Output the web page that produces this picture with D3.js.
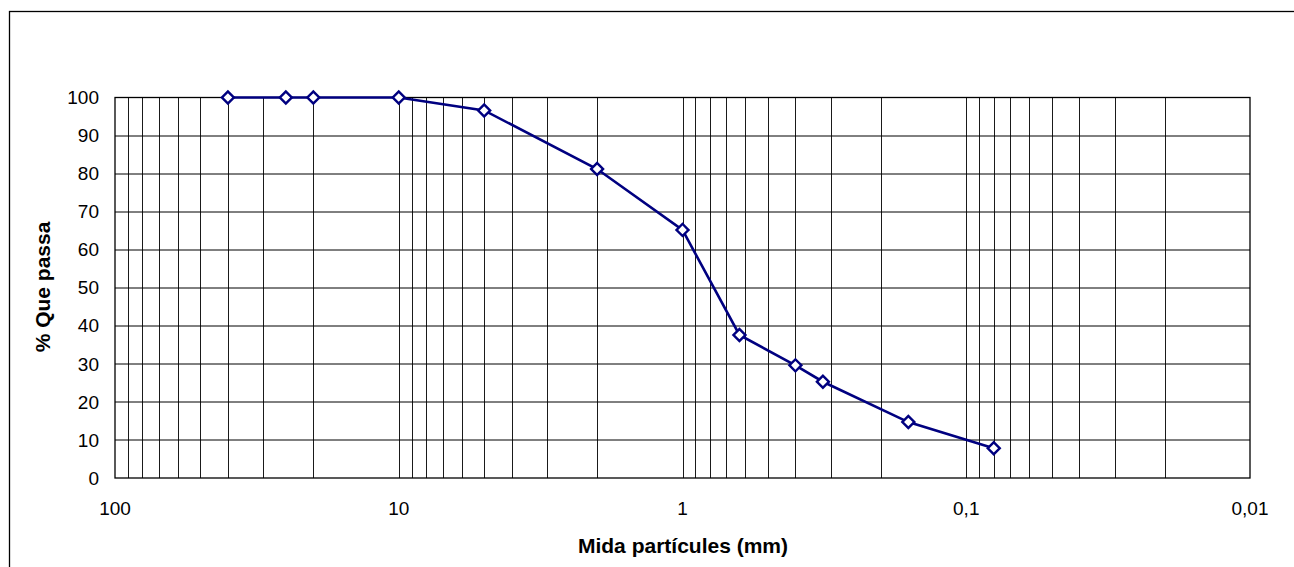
<!DOCTYPE html>
<html>
<head>
<meta charset="utf-8">
<script src="https://cdn.jsdelivr.net/npm/d3@7"></script>
<style>
  body { margin: 0; background: #fff; }
  svg text { font-family: Arial, "Liberation Sans", sans-serif; fill: #000; }
</style>
</head>
<body>
<div id="container"></div>
<script>
let margin = {top: 97.5, right: 44, bottom: 89, left: 115},
    width = 1294 - margin.left - margin.right,
    height = 567 - margin.top - margin.bottom;

// particle size (mm) and % passing
let sizes = [40, 25, 20, 10, 5, 2, 1, 0.63, 0.4, 0.32, 0.16, 0.08];
let passing = [100, 100, 100, 100, 96.6, 81.2, 65.2, 37.6, 29.6, 25.3, 14.7, 7.8];
let xTicks = [100, 10, 1, 0.1, 0.01];
let xTickLabels = ["100", "10", "1", "0,1", "0,01"];
let yTicks = [0, 10, 20, 30, 40, 50, 60, 70, 80, 90, 100];

let svg = d3.select('#container')
              .append("svg")
                  .attr("width", 1294)
                  .attr("height", 567);

// outer chart frame (runs off the page on right and bottom)
svg.append("rect")
    .attr("x", 9.5).attr("y", 11.5)
    .attr("width", 1300).attr("height", 600)
    .attr("fill", "none")
    .attr("stroke", "#000")
    .attr("stroke-width", 1.3);

let graph = svg.append("g")
    .attr("transform", "translate(" + margin.left + "," + margin.top + ")");

let xScale = d3.scaleLog()
                .domain([100, 0.01])
                .range([0, width]);

let yScale = d3.scaleLinear()
                .domain([0, 100])
                .range([height, 0]);

// vertical gridlines: every 1..9 of each decade
let minor = [];
[10, 1, 0.1, 0.01].forEach(function(dec){
  for(let k = 1; k < 10; k++){ minor.push(+(dec * k).toPrecision(3)); }
});
minor = minor.filter(d => d < 100 && d > 0.01);

graph.append("g").selectAll("line")
    .data(minor)
    .enter().append("line")
      .attr("x1", d => Math.round(xScale(d)) + 0.5)
      .attr("x2", d => Math.round(xScale(d)) + 0.5)
      .attr("y1", 0)
      .attr("y2", height)
      .attr("stroke", "#1a1a1a")
      .attr("stroke-width", 1);

// horizontal gridlines
graph.append("g").selectAll("line")
    .data(yTicks.slice(1, -1))
    .enter().append("line")
      .attr("x1", 0)
      .attr("x2", width)
      .attr("y1", d => Math.round(yScale(d)) + 0.5)
      .attr("y2", d => Math.round(yScale(d)) + 0.5)
      .attr("stroke", "#000")
      .attr("stroke-width", 1);

// plot border
graph.append("rect")
    .attr("x", 0).attr("y", 0)
    .attr("width", width).attr("height", height)
    .attr("fill", "none")
    .attr("stroke", "#000")
    .attr("stroke-width", 1.3);

// y tick labels
graph.append("g").selectAll("text")
    .data(yTicks)
    .enter().append("text")
      .attr("x", -16)
      .attr("y", d => yScale(d))
      .attr("dy", "0.35em")
      .attr("text-anchor", "end")
      .style("font-size", "19px")
      .text(d => d);

// x tick labels
graph.append("g").selectAll("text")
    .data(xTicks)
    .enter().append("text")
      .attr("x", d => xScale(d))
      .attr("y", height + 37)
      .attr("text-anchor", "middle")
      .style("font-size", "19px")
      .text((d, i) => xTickLabels[i]);

// axis titles
graph.append("text")
    .attr("x", 568)
    .attr("y", height + 75)
    .attr("text-anchor", "middle")
    .style("font-size", "21px")
    .style("font-weight", "bold")
    .text("Mida partícules (mm)");

svg.append("text")
    .attr("transform", "translate(50,287) rotate(-90)")
    .attr("text-anchor", "middle")
    .style("font-size", "21px")
    .style("font-weight", "bold")
    .text("% Que passa");

// curve
let points = sizes.map((s, i) => [xScale(s), yScale(passing[i])]);

graph.append("path")
    .datum(points)
    .attr("d", d3.line())
    .attr("fill", "none")
    .attr("stroke", "#000080")
    .attr("stroke-width", 2.6);

let diamond = d3.symbol().type(d3.symbolSquare).size(72);

graph.append("g").selectAll("path")
    .data(points)
    .enter().append("path")
      .attr("d", diamond)
      .attr("transform", d => "translate(" + d[0] + "," + d[1] + ") rotate(45)")
      .attr("fill", "#fff")
      .attr("stroke", "#000080")
      .attr("stroke-width", 2.4);
</script>
</body>
</html>
